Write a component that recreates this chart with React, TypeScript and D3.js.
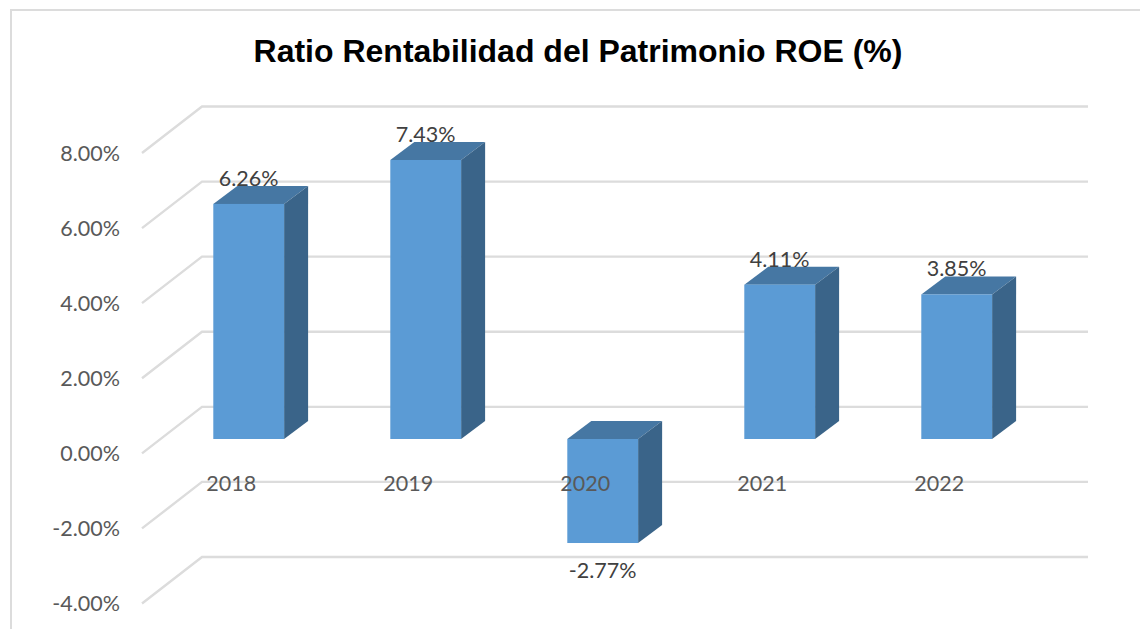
import React from "react";
import * as d3 from "d3";

const categories = ["2018", "2019", "2020", "2021", "2022"];
const roeValues = [6.26, 7.43, -2.77, 4.11, 3.85];
const yTicks = [8, 6, 4, 2, 0, -2, -4];
const chartTitle = "Ratio Rentabilidad del Patrimonio ROE (%)";

const W = 1140, H = 629;
const FONT = "Lato, 'Open Sans', sans-serif";
const depthX = 60, depthY = 46.5;
const barDX = 24, barDY = 18;

// front plane of the axis
const yFront = d3.scaleLinear().domain([-4, 8]).range([603.5, 153]);
// bars sit in the middle of the floor depth
const yBar = d3.scaleLinear().domain([-4, 8]).range([439 + 4 * 37.55, 439 - 8 * 37.55]);
const xBand = d3.scaleBand<string>().domain(categories).range([160.2, 1045.2]).paddingInner(0).paddingOuter(0);
const barW = 70.8;

export default function App() {
  const fmt = (v: number) => (v < 0 ? "-" : "") + d3.format(".2f")(Math.abs(v)) + "%";
  return (
    <svg width={W} height={H} viewBox={`0 0 ${W} ${H}`} style={{ position: "fixed", left: 0, top: 0, background: "#fff" }}>
      <path d="M11 629V10H1140" fill="none" stroke="#dcdcdc" strokeWidth={2} />
      <text x={578} y={61.5} textAnchor="middle" fontFamily="'Liberation Sans', Arial, sans-serif" fontWeight={700} fontSize={32} fill="#000">
        {chartTitle}
      </text>

      {yTicks.map((t) => {
        const y = yFront(t);
        return (
          <g key={t}>
            <path d={`M142 ${y}L${142 + depthX} ${y - depthY}H1088`} fill="none" stroke="#dcdcdc" strokeWidth={2.4} />
            <text x={120} y={y + 7.5} textAnchor="end" fontFamily={FONT} fontSize={21.5} fill="#595959">
              {fmt(t)}
            </text>
          </g>
        );
      })}

      {categories.map((c, i) => {
        const x0 = (xBand(c) as number) + xBand.bandwidth() / 2 - barW / 2;
        const x1 = x0 + barW;
        const v = roeValues[i];
        const yTop = yBar(Math.max(v, 0));
        const yBot = yBar(Math.min(v, 0));
        const labelX = x0 + barW / 2;
        return (
          <g key={c}>
            <path d={`M${x0} ${yTop}l${barDX} ${-barDY}H${x1 + barDX}L${x1} ${yTop}Z`} fill="#4677a3" />
            <path d={`M${x1} ${yTop}l${barDX} ${-barDY}V${yBot - barDY}L${x1} ${yBot}Z`} fill="#3a6489" />
            <rect x={x0} y={yTop} width={barW} height={yBot - yTop} fill="#5b9bd5" />
            <text x={x0 + 18} y={491} textAnchor="middle" fontFamily={FONT} fontSize={21.5} fill="#595959">{c}</text>
            <text x={labelX} y={v >= 0 ? yTop - 18 : yBot + 35} textAnchor="middle" fontFamily={FONT} fontSize={21.5} fill="#404040">
              {fmt(v)}
            </text>
          </g>
        );
      })}
    </svg>
  );
}
